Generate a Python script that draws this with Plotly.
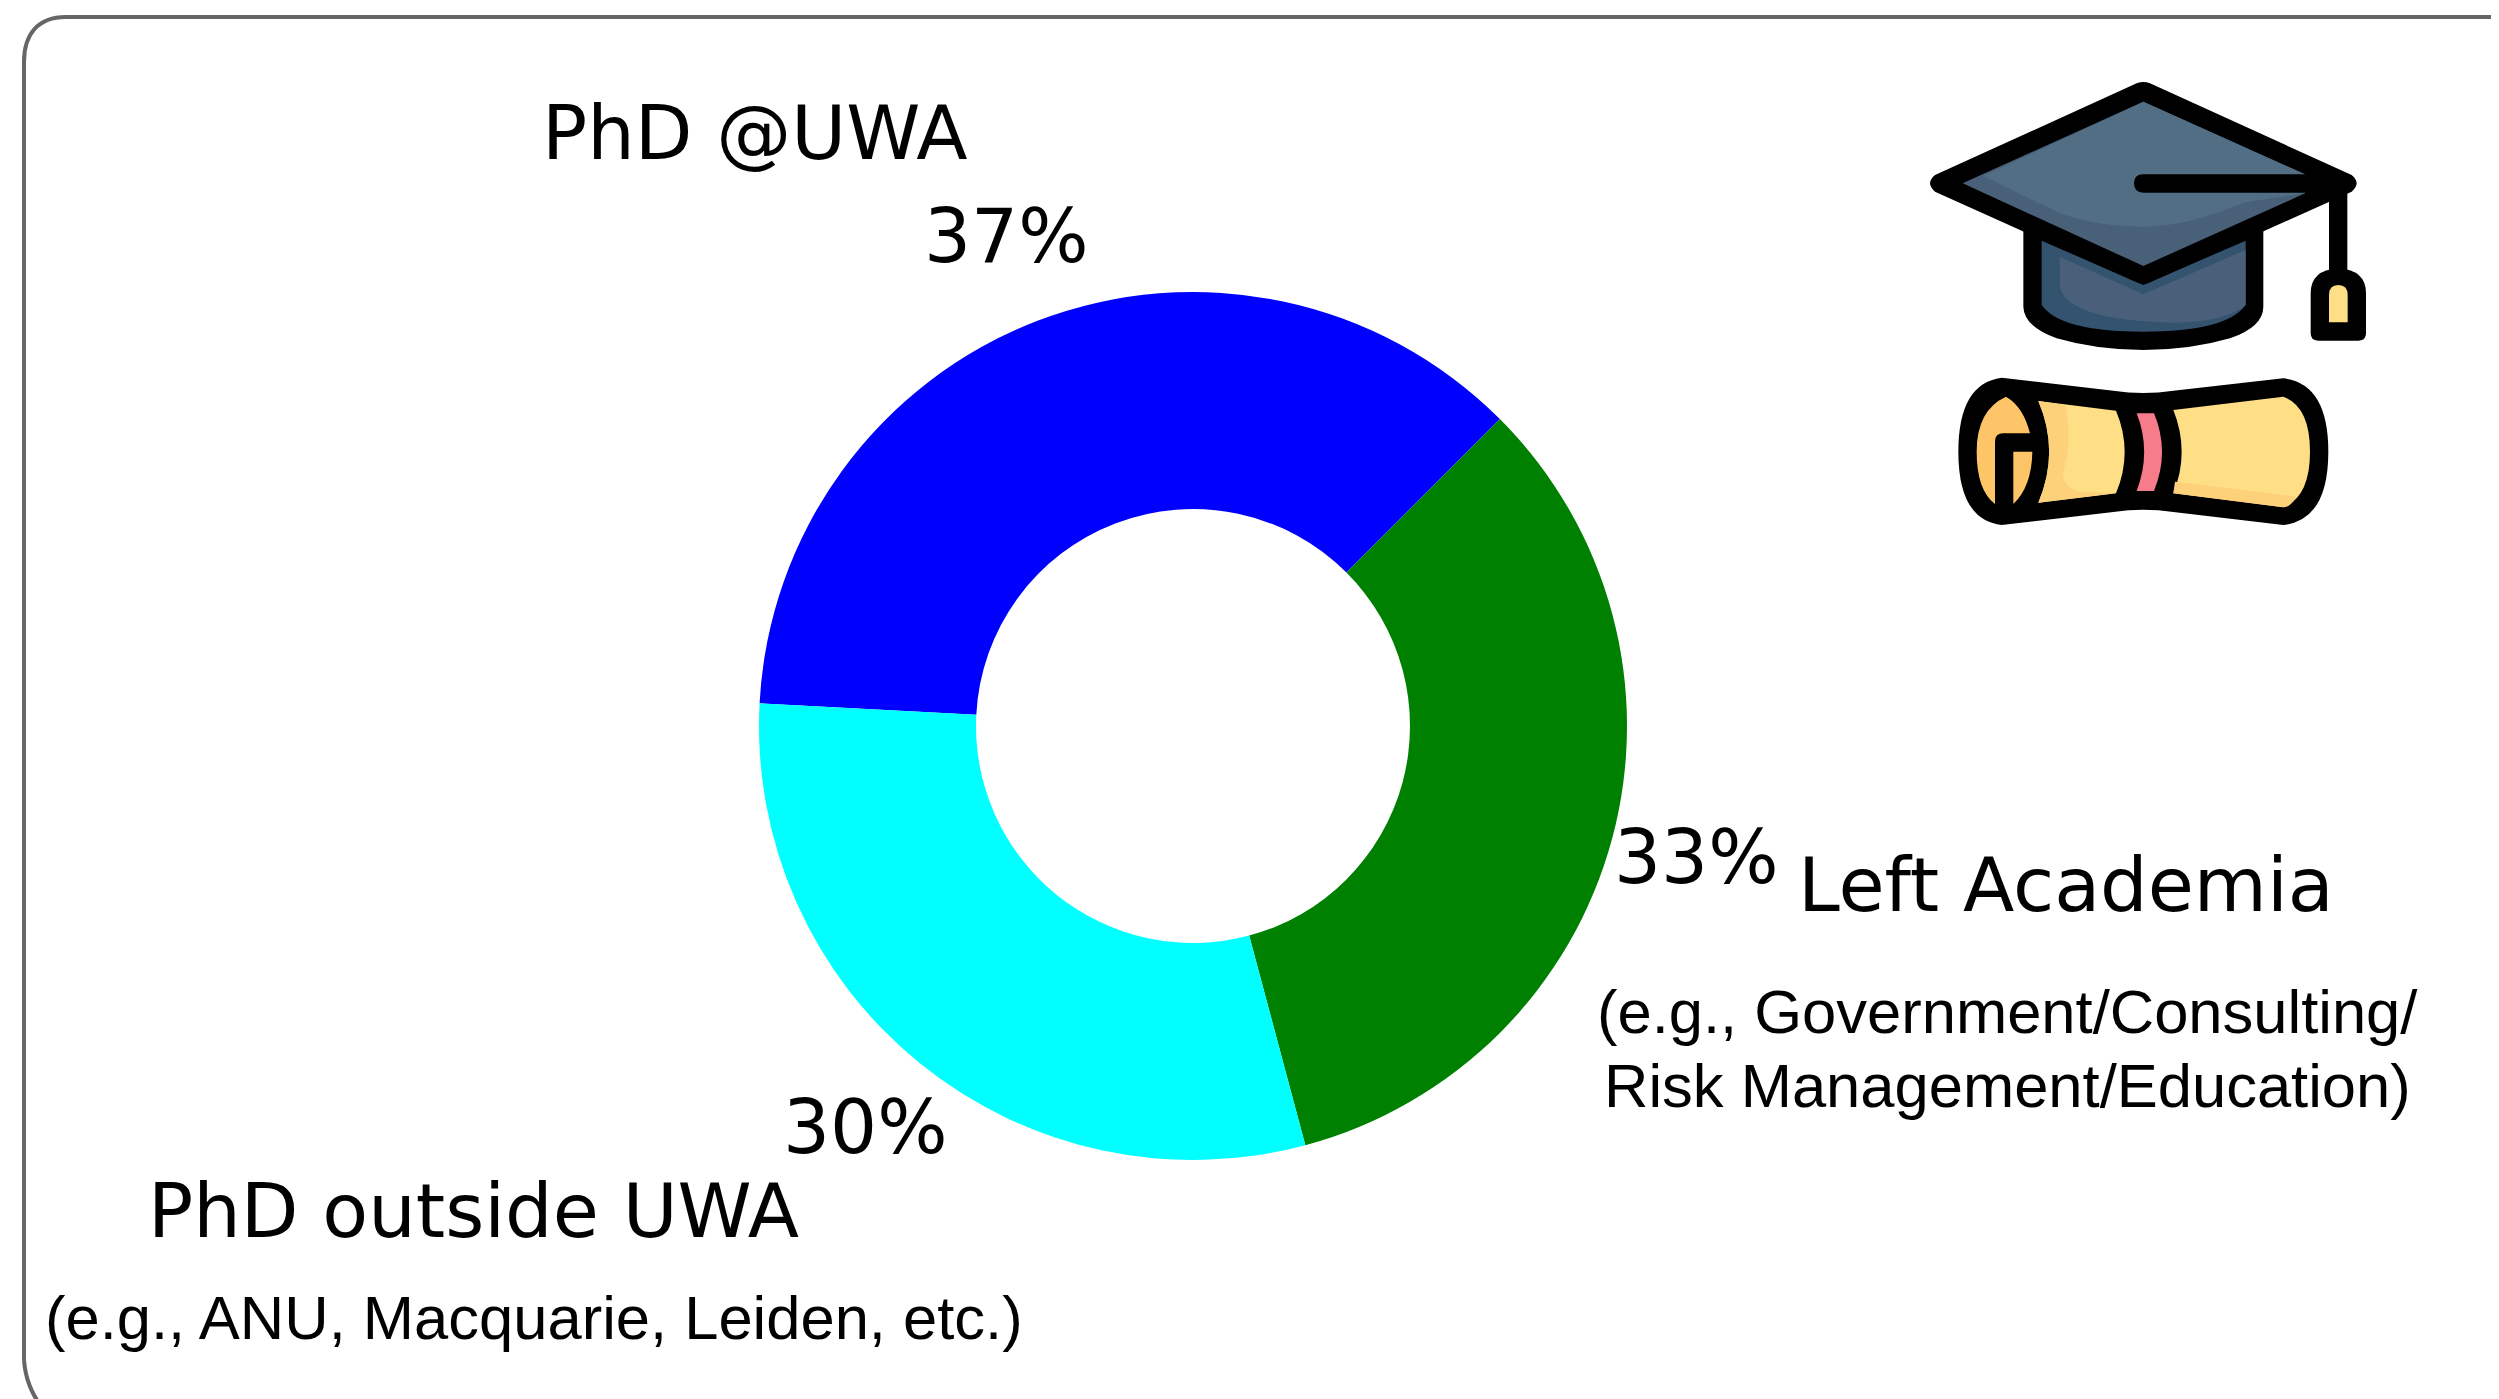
import re
import numpy as np
import plotly.graph_objects as go

W, H = 2499, 1399
categories = ["PhD @UWA", "Left Academia", "PhD outside UWA"]
values = [11, 10, 9]
colors = ["#0000FF", "#008000", "#00FFFF"]
subtitles = ["(e.g., Government/Consulting/", "Risk Management/Education)", "(e.g., ANU, Macquarie, Leiden, etc.)"]

OFF = 8  # default page margin of the HTML body
CX, CY, R = 1193, 726, 434
ROT = 273


def paper_path(d, fn):
    toks = re.findall(r"[MLQCZ]|-?\d+\.?\d*", d)
    out, is_x = [], True
    for t in toks:
        if t.isalpha():
            out.append(t)
            is_x = True
        else:
            x = float(t)
            out.append(f"{fn[0](x):.5f}" if is_x else f"{fn[1](x):.5f}")
            is_x = not is_x
    return " ".join(out)


def fx(x):
    return (x - OFF) / W


def fy(y):
    return 1 - (y - OFF) / H


px_fn = (fx, fy)
icon_fn = (lambda x: fx(1880 + x / 3), lambda y: fy(50 + y / 3))

shapes = []


def add(d, fill=None, line=None, lw=0, fn=icon_fn):
    s = dict(type="path", xref="paper", yref="paper", path=paper_path(d, fn), layer="above")
    if fill:
        s["fillcolor"] = fill
    s["line"] = dict(color=line or "rgba(0,0,0,0)", width=lw)
    shapes.append(s)


# card border
add("M24 1360 Q26 1388 44 1410", line="#666666", lw=4, fn=px_fn)
add("M24 1360 L24 62 C24 34 38 17 66 17 L2510 17", line="#666666", lw=4, fn=px_fn)

BK = "#000000"
# hat base
add("M430 530 L430 770 Q432 830 530 865 Q650 900 790 900 Q930 900 1050 865 Q1150 830 1150 770 L1150 530 Z", BK)
add("M485 572 L790 705 L1097 572 L1097 765 Q1040 845 790 845 Q540 845 485 765 Z", "#33536F")
add("M540 620 L790 733 L1097 600 L1097 765 Q1040 815 880 818 Q560 810 540 710 Z", "#4A5F7A")
# mortarboard
add("M165 375 L770 100 Q790 92 810 100 L1415 375 Q1445 400 1415 425 L810 697 Q790 708 770 697 L165 425 Q135 400 165 375 Z", BK)
add("M248 400 L790 155 L1275 373 L1275 430 L790 648 Z", "#496079")
add("M310 378 L790 155 L1275 373 L1275 430 L1090 458 Q920 530 790 530 Q650 530 540 490 Z", "#526E84")
add("M790 373 L1400 373 L1400 428 L790 428 Q762 428 762 400 Q762 373 790 373 Z", BK)
# tassel
add("M1347 420 L1402 420 L1402 670 L1347 670 Z", BK)
add("M1292 850 L1292 730 Q1292 660 1375 655 Q1458 660 1458 730 L1458 850 Q1458 872 1436 872 L1314 872 Q1292 872 1292 850 Z", BK)
add("M1347 817 L1347 735 Q1347 705 1375 705 Q1403 705 1403 735 L1403 817 Z", "#FEDF85")
# scroll
add("M365 983 L700 1022 Q790 1036 880 1022 L1210 985 Q1345 1000 1345 1205 Q1345 1410 1210 1425 L880 1386 Q790 1372 700 1386 L365 1425 Q235 1410 235 1205 Q235 1000 365 983 Z", BK)
add("M880 1080 L1210 1040 Q1290 1070 1290 1205 Q1290 1340 1210 1372 L880 1330 Q930 1205 880 1080 Z", "#FEDF85")
add("M885 1295 L1250 1340 Q1230 1372 1210 1372 L880 1330 Z", "#FDD17A")
add("M475 1053 L708 1082 Q760 1205 708 1330 L475 1358 Q540 1205 475 1053 Z", "#FEDF85")
add("M475 1053 L555 1065 Q580 1170 548 1270 Q555 1325 610 1325 L708 1330 L475 1358 Q540 1205 475 1053 Z", "#FDD17A")
add("M770 1090 L822 1090 Q870 1205 822 1323 L770 1323 Q815 1205 770 1090 Z", "#F67C8A")
add("M378 1040 Q290 1080 290 1205 Q290 1320 345 1362 L345 1175 Q345 1150 370 1150 L450 1150 Q430 1070 378 1040 Z", "#FDC567")
add("M400 1205 L457 1205 Q455 1310 400 1362 Z", "#FDC567")

fig = go.Figure(go.Pie(
    labels=categories, values=values, hole=0.5, sort=False, direction="clockwise",
    rotation=ROT, textinfo="none", marker=dict(colors=colors, line=dict(width=0)),
    domain=dict(x=[fx(CX - R), fx(CX + R)], y=[fy(CY + R), fy(CY - R)]),
    showlegend=False,
))

annotations = []


def text(s, x, y, font, size):
    annotations.append(dict(text=s, x=fx(x), y=fy(y), xref="paper", yref="paper", showarrow=False,
                            xanchor="center", yanchor="middle", font=dict(family=font, size=size, color="#000000")))


# percentage labels at 1.2 R from the wedge middle
total = sum(values)
start = ROT
for v in values:
    frac = v / total
    mid = np.deg2rad(start + frac * 180)
    text(f"{frac * 100:.0f}%", CX + 1.2 * R * np.sin(mid), CY - 1.2 * R * np.cos(mid) - 4, "DejaVu Sans", 74)
    start += frac * 360

text(categories[0], 755, 133, "DejaVu Sans", 75)
text(categories[1], 2066, 885, "DejaVu Sans", 75)
text(categories[2], 473, 1211, "DejaVu Sans", 75)
text(subtitles[0], 2007, 1011, "Liberation Sans", 61.5)
text(subtitles[1], 2007, 1085, "Liberation Sans", 61.5)
text(subtitles[2], 534, 1317, "Liberation Sans", 61.5)

fig.update_layout(width=W, height=H, margin=dict(l=0, r=0, t=0, b=0), paper_bgcolor="white",
                  shapes=shapes, annotations=annotations)
fig.write_html("out.html", config=dict(displayModeBar=False))
